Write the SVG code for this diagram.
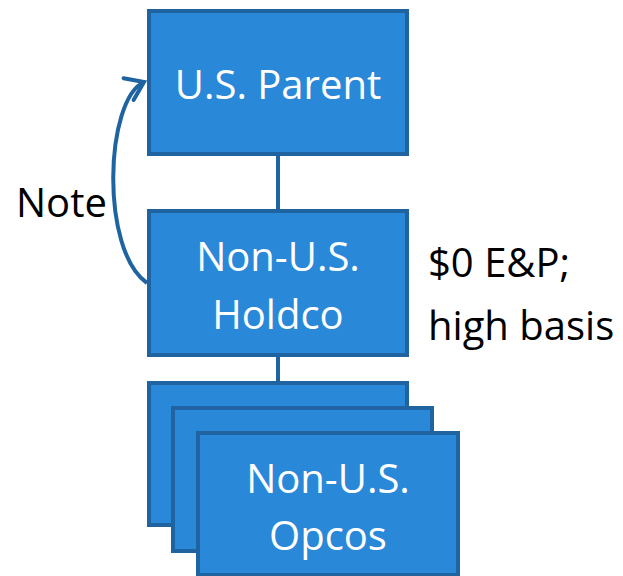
<svg xmlns="http://www.w3.org/2000/svg" width="623" height="576" viewBox="0 0 623 576">
  <style>
    .box { fill: #2A88D8; stroke: #1F64A0; stroke-width: 4; }
    .lbl { fill: #FFFFFF; font-family: "Open Sans", "Liberation Sans", sans-serif; font-size: 40px; text-anchor: middle; }
    .txt { fill: #000000; font-family: "Open Sans", "Liberation Sans", sans-serif; font-size: 40px; }
    .conn { stroke: #1F64A0; stroke-width: 4; fill: none; }
    .curve { stroke: #1F64A0; stroke-width: 4; fill: none; }
  </style>
  <defs>
    <marker id="openArrow" markerUnits="userSpaceOnUse" markerWidth="30" markerHeight="30" refX="20" refY="12" orient="auto" overflow="visible">
      <path d="M3,0 L20,12 L3,24" fill="none" stroke="#1F64A0" stroke-width="4" stroke-linecap="round" stroke-linejoin="miter"/>
    </marker>
  </defs>
  <rect width="623" height="576" fill="#FFFFFF"/>

  <g id="connectors">
    <line class="conn" x1="278" y1="155" x2="278" y2="210"/>
    <line class="conn" x1="278" y1="356" x2="278" y2="382"/>
    <path class="curve" d="M147,283 C100,250 105,100 144,82" marker-end="url(#openArrow)"/>
  </g>

  <g id="us-parent">
    <rect class="box" x="149" y="11" width="258" height="143"/>
    <text class="lbl" x="278" y="99">U.S. Parent</text>
  </g>

  <g id="non-us-holdco">
    <rect class="box" x="149" y="211" width="258" height="144"/>
    <text class="lbl" x="278" y="271">Non-U.S.</text>
    <text class="lbl" x="278" y="329">Holdco</text>
  </g>

  <g id="non-us-opcos">
    <rect class="box" x="149" y="383" width="258" height="142"/>
    <rect class="box" x="173" y="408" width="259" height="143"/>
    <rect class="box" x="198" y="433" width="260" height="142"/>
    <text class="lbl" x="328" y="493">Non-U.S.</text>
    <text class="lbl" x="328" y="550">Opcos</text>
  </g>

  <g id="note-label">
    <text class="txt" x="16" y="217">Note</text>
  </g>

  <g id="holdco-annotation">
    <text class="txt" x="428" y="277">$0 E&amp;P;</text>
    <text class="txt" x="428" y="340">high basis</text>
  </g>
</svg>
